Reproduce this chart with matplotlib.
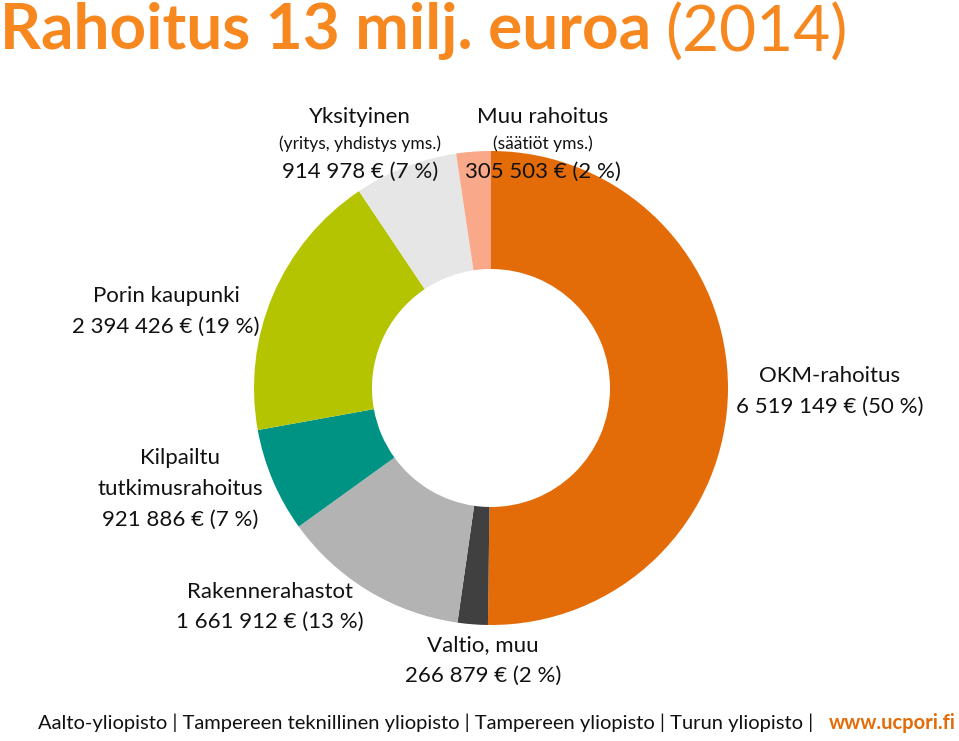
import matplotlib
matplotlib.use("Agg")
import matplotlib.pyplot as plt

# funding sources, clockwise from the top
sources = ["OKM-rahoitus", "Valtio, muu", "Rakennerahastot", "Kilpailtu tutkimusrahoitus",
           "Porin kaupunki", "Yksityinen", "Muu rahoitus"]
amounts = [6519149, 266879, 1661912, 921886, 2394426, 914978, 305503]
percents = [50, 2, 13, 7, 19, 7, 2]
colors = ["#E36C09", "#404040", "#B3B3B3", "#009383", "#B4C400", "#E6E6E6", "#F9A889"]

W, H = 959, 741


def fmt(v, p):
    s = "{:,}".format(v).replace(",", " ")
    return "%s € (%d %%)" % (s, p)


fig = plt.figure(figsize=(W / 100, H / 100), dpi=100)
ax = fig.add_axes([0, 0, 1, 1])
ax.set_xlim(0, W)
ax.set_ylim(0, H)
ax.set_aspect("equal")
ax.axis("off")

ax.pie(amounts, colors=colors, startangle=90, counterclock=False,
       center=(491, H - 388), radius=237, wedgeprops=dict(width=118, linewidth=0))
ax.set_xlim(0, W)
ax.set_ylim(0, H)

plt.rcParams["font.family"] = ["Lato", "DejaVu Sans"]


def txt(x, y, s, size=16, **kw):
    ax.text(x, H - y, s, fontsize=size, ha="center", va="center", color="#111111", **kw)


# title
title = ax.text(0, H - 31, "Rahoitus 13 milj. euroa", fontsize=46, fontweight="bold",
                color="#F7871F", ha="left", va="center")
fig.canvas.draw()
bb = title.get_window_extent()
ax.text(bb.x1 + 14, H - 33, "(2014)", fontsize=46, color="#F7871F", ha="left", va="center")

lab = {s: fmt(a, p) for s, a, p in zip(sources, amounts, percents)}

txt(360, 117, "Yksityinen")
txt(360, 144, "(yritys, yhdistys yms.)", size=12.5)
txt(360, 172, lab["Yksityinen"])

txt(543, 117, "Muu rahoitus")
txt(543, 144, "(säätiöt yms.)", size=12.5)
txt(543, 172, lab["Muu rahoitus"])

txt(166, 296, "Porin kaupunki")
txt(166, 327, lab["Porin kaupunki"])

txt(830, 376, "OKM-rahoitus")
txt(830, 407, lab["OKM-rahoitus"])

txt(180, 458, "Kilpailtu")
txt(180, 489, "tutkimusrahoitus")
txt(180, 520, lab["Kilpailtu tutkimusrahoitus"])

txt(270, 592, "Rakennerahastot")
txt(270, 622, lab["Rakennerahastot"])

txt(483, 645, "Valtio, muu")
txt(483, 676, lab["Valtio, muu"])

# footer
ax.text(813, H - 723, "Aalto-yliopisto | Tampereen teknillinen yliopisto | Tampereen yliopisto | Turun yliopisto |",
        fontsize=14.5, ha="right", va="center", color="#111111")
ax.text(956, H - 723, "www.ucpori.fi", fontsize=14.5, fontweight="bold",
        ha="right", va="center", color="#E36C09")

fig.savefig("out.png", dpi=100)
